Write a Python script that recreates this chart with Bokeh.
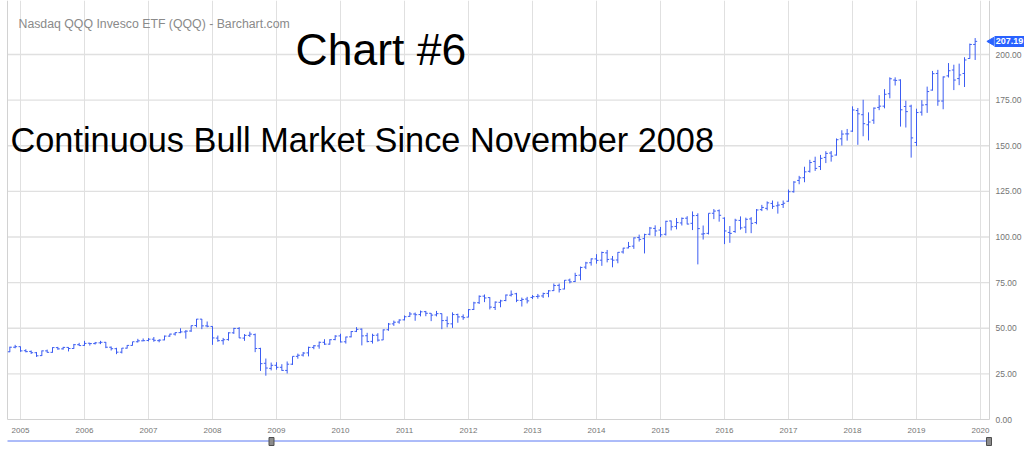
from bokeh.plotting import figure
from bokeh.models import Range1d, ColumnDataSource
from bokeh.core.properties import value
from bokeh.embed import file_html
from bokeh.resources import INLINE

# Monthly OHLC bars, Nov 2004 .. Dec 2019
first_year, first_month = 2004, 11
opens = [37.1, 39.6,
    39.9, 37.7, 37.3, 36.6, 35.0, 37.6, 36.8, 39.4, 38.7, 39.5, 38.9, 41.0,
    40.6, 41.8, 41.6, 42.0, 42.3, 39.6, 38.8, 36.9, 39.1, 40.6, 42.6, 43.1,
    43.3, 44.0, 43.2, 43.6, 45.7, 46.8, 47.6, 48.0, 48.5, 51.5, 55.0, 51.3,
    51.0, 44.6, 43.2, 43.8, 47.5, 49.9, 44.6, 46.1, 46.5, 38.9, 30.8, 28.0,
    29.7, 28.6, 26.9, 30.3, 34.6, 35.3, 36.5, 39.5, 40.3, 42.3, 41.3, 43.8,
    45.8, 42.6, 45.3, 48.3, 49.5, 45.9, 42.8, 46.2, 43.6, 49.2, 52.4, 53.4,
    54.6, 56.5, 57.8, 57.5, 59.1, 58.2, 57.3, 58.0, 54.3, 52.4, 57.5, 56.3,
    56.1, 60.3, 64.0, 67.6, 66.8, 61.4, 64.2, 65.2, 68.1, 68.9, 65.2, 66.0,
    66.9, 67.4, 67.7, 69.1, 70.6, 73.5, 71.5, 76.4, 75.6, 79.1, 83.5, 85.9,
    88.0, 87.3, 91.3, 87.9, 87.4, 91.8, 94.0, 95.0, 99.7, 99.1, 101.5, 104.7,
    103.8, 101.5, 108.8, 105.8, 107.7, 110.3, 107.5, 111.8, 101.6, 102.0, 113.0, 114.4,
    110.3, 102.5, 103.0, 109.1, 105.4, 109.9, 107.9, 115.0, 115.7, 118.4, 117.1, 117.8,
    119.6, 124.8, 131.0, 132.5, 136.0, 141.4, 138.6, 143.6, 146.0, 144.9, 153.8, 156.5,
    158.0, 169.3, 167.0, 161.5, 164.0, 171.0, 171.7, 178.5, 186.0, 186.0, 171.5, 171.7,
    151.8, 168.4, 172.5, 180.5, 189.6, 174.5, 188.3, 191.5, 186.8, 189.6, 197.8, 205.5]
highs = [39.9, 40.9,
    40.0, 38.5, 37.8, 37.0, 37.8, 38.3, 39.6, 39.8, 39.8, 39.6, 41.4, 42.0,
    43.1, 42.0, 42.5, 43.1, 42.5, 40.0, 39.3, 39.2, 40.8, 42.6, 44.2, 44.4,
    44.6, 45.2, 44.0, 46.0, 47.0, 47.8, 50.0, 49.0, 51.5, 55.1, 55.1, 53.7,
    51.1, 46.0, 44.7, 47.8, 50.2, 50.6, 46.8, 48.1, 47.1, 39.3, 33.4, 31.2,
    31.4, 30.3, 31.8, 34.6, 36.1, 37.0, 39.9, 40.8, 42.7, 44.0, 44.0, 46.2,
    47.0, 45.4, 48.5, 50.6, 49.9, 47.5, 47.0, 47.3, 49.4, 52.9, 54.2, 54.9,
    57.0, 58.9, 58.6, 59.7, 59.5, 58.3, 59.5, 58.1, 56.5, 58.7, 58.0, 57.6,
    60.5, 64.5, 68.0, 68.5, 67.0, 64.7, 65.6, 68.5, 70.7, 69.4, 66.8, 67.2,
    68.2, 68.8, 69.5, 70.9, 74.5, 74.5, 76.4, 77.2, 80.4, 83.8, 86.4, 88.3,
    90.6, 92.0, 92.9, 89.6, 91.7, 94.1, 97.3, 99.8, 101.3, 101.8, 105.5, 106.4,
    105.5, 108.9, 109.0, 110.4, 110.7, 111.4, 114.0, 113.0, 106.3, 113.0, 115.3, 115.1,
    110.8, 106.0, 110.0, 111.3, 110.6, 110.9, 115.3, 117.6, 119.5, 120.0, 119.4, 120.0,
    126.0, 130.6, 133.5, 138.5, 142.3, 144.0, 145.0, 147.0, 147.1, 154.0, 158.5, 159.2,
    171.6, 170.7, 175.2, 168.3, 171.0, 177.7, 181.0, 187.5, 187.5, 186.4, 174.7, 172.5,
    170.3, 175.0, 182.4, 191.0, 191.6, 188.0, 195.3, 194.4, 195.0, 198.5, 206.0, 209.0]
lows = [36.9, 39.0,
    37.1, 36.8, 35.9, 34.3, 34.8, 36.6, 36.6, 38.2, 38.3, 37.3, 38.7, 40.4,
    40.4, 40.5, 41.1, 41.3, 39.1, 37.8, 35.8, 36.2, 38.9, 40.5, 42.2, 42.9,
    42.8, 42.6, 42.3, 43.4, 45.3, 46.0, 47.3, 44.3, 48.0, 50.5, 49.5, 50.5,
    40.9, 42.6, 41.0, 43.2, 46.9, 44.6, 43.1, 45.2, 36.9, 26.6, 24.0, 26.9,
    27.3, 26.7, 25.2, 29.9, 33.3, 34.5, 34.6, 38.5, 38.8, 40.9, 41.0, 43.4,
    42.2, 41.6, 45.0, 47.9, 40.6, 42.3, 41.6, 42.7, 43.5, 48.6, 51.3, 52.5,
    54.3, 56.2, 54.1, 56.5, 56.6, 53.9, 56.5, 49.5, 50.5, 50.2, 53.0, 54.6,
    56.0, 60.0, 63.3, 64.3, 60.3, 60.0, 61.5, 64.8, 67.4, 64.3, 61.9, 63.6,
    66.0, 66.2, 66.6, 67.0, 70.4, 69.6, 71.3, 74.6, 75.3, 76.3, 82.4, 84.3,
    85.4, 84.2, 86.1, 83.4, 85.6, 90.9, 93.8, 93.5, 97.5, 91.0, 100.9, 100.4,
    99.9, 100.8, 103.6, 104.2, 106.3, 106.9, 103.8, 85.0, 98.6, 101.4, 109.8, 108.4,
    96.1, 96.8, 102.3, 104.0, 102.1, 102.1, 107.0, 114.2, 114.6, 115.4, 112.8, 115.9,
    119.3, 124.3, 128.9, 130.0, 135.3, 136.2, 136.7, 140.5, 141.3, 144.6, 150.1, 152.8,
    157.6, 150.5, 155.2, 152.9, 162.0, 169.5, 170.5, 176.0, 183.0, 160.5, 160.0, 143.5,
    149.8, 166.5, 168.0, 180.2, 171.9, 170.0, 187.4, 180.5, 183.2, 182.2, 197.7, 197.0]
closes = [39.6, 39.9,
    37.6, 37.2, 36.6, 34.9, 37.6, 36.8, 39.4, 38.7, 39.5, 38.9, 41.0, 40.5,
    41.7, 41.6, 42.0, 42.3, 39.6, 38.8, 36.9, 39.1, 40.6, 42.6, 43.1, 43.2,
    44.0, 43.4, 43.5, 45.7, 46.8, 47.6, 48.0, 48.4, 51.4, 55.0, 51.3, 51.1,
    44.7, 43.2, 43.7, 47.5, 49.9, 44.7, 46.1, 46.8, 38.9, 30.6, 28.2, 29.7,
    28.6, 26.9, 30.3, 34.6, 35.2, 36.4, 39.5, 40.4, 42.3, 41.3, 43.7, 45.7,
    42.5, 45.2, 48.2, 49.4, 45.8, 42.7, 46.1, 43.5, 49.1, 52.3, 53.3, 54.5,
    56.3, 57.8, 57.4, 59.0, 58.2, 57.2, 58.0, 54.2, 52.5, 57.5, 56.2, 55.8,
    60.2, 63.9, 67.5, 66.6, 61.6, 64.3, 65.0, 68.2, 68.6, 65.3, 65.8, 65.0,
    67.3, 67.6, 69.0, 70.5, 73.4, 71.2, 76.3, 75.4, 78.9, 83.3, 85.8, 88.0,
    87.2, 91.5, 87.7, 87.3, 91.6, 93.9, 94.8, 99.5, 98.7, 101.3, 104.9, 103.3,
    101.2, 108.6, 105.6, 107.9, 110.2, 107.1, 111.7, 104.6, 101.8, 113.0, 114.2, 111.9,
    103.3, 102.0, 109.2, 105.0, 109.7, 107.5, 114.8, 116.2, 118.7, 116.8, 117.5, 118.5,
    124.8, 130.1, 132.4, 135.7, 140.8, 137.6, 143.1, 145.8, 144.3, 153.3, 156.4, 156.5,
    169.6, 167.5, 162.1, 163.0, 170.6, 171.7, 178.2, 186.7, 185.8, 169.7, 168.7, 154.3,
    168.2, 172.3, 179.7, 189.5, 174.5, 187.7, 191.1, 186.0, 188.8, 197.0, 205.5, 207.2]
last_price = 207.19
year_ticks = list(range(2005, 2021))
price_ticks = [0, 25, 50, 75, 100, 125, 150, 175, 200]
source_title = "Nasdaq QQQ Invesco ETF (QQQ) - Barchart.com"
headline = "Chart #6"
subtitle = "Continuous Bull Market Since November 2008"
nav_window_start = 2009.0

# ---- pixel <-> data mapping (canvas fills the whole window) ----
W, H = 1024, 451
PX_PER_YEAR = 64.0
X_AT_2005 = 20.0
Y_ZERO_PX, PX_PER_UNIT = 419.0, 1.825


def px2x(px):
    return 2005 + (px - X_AT_2005) / PX_PER_YEAR


def py2y(py):
    return (Y_ZERO_PX - py) / PX_PER_UNIT


X0, X1 = px2x(0), px2x(W)
Y0, Y1 = py2y(H), py2y(0)
x_left, x_right = px2x(7), px2x(989)       # plot-area borders
y_top = Y1

n = len(closes)
xs = [first_year + (first_month - 1 + i) / 12.0 for i in range(n)]
tick = 2.0 / PX_PER_YEAR
src = ColumnDataSource(dict(
    x=xs, o=opens, h=highs, l=lows, c=closes,
    xl=[x - tick for x in xs], xr=[x + tick for x in xs]))

BAR = "#3c5df2"
GRID = "#e0e0e0"
BORDER = "#d2d2d2"
LABEL = "#747474"
FONT = value("Liberation Sans")

p = figure(width=W, height=H, x_range=Range1d(X0, X1), y_range=Range1d(Y0, Y1),
           output_backend="svg", toolbar_location=None,
           x_axis_location=None, y_axis_location=None, min_border=0)
p.grid.visible = False
p.outline_line_color = None
p.background_fill_color = "white"
p.border_fill_color = "white"

# grid lines
p.segment(x0=year_ticks, y0=[0] * len(year_ticks), x1=year_ticks, y1=[y_top] * len(year_ticks),
          line_color=GRID, line_width=1)
hticks = [t for t in price_ticks if t > 0]
p.segment(x0=[x_left] * len(hticks), y0=hticks, x1=[x_right] * len(hticks), y1=hticks,
          line_color=GRID, line_width=1.4)
# plot-area border
p.segment(x0=[x_left, x_left, x_right], y0=[0, 0, 0], x1=[x_left, x_right, x_right],
          y1=[y_top, 0, y_top], line_color=BORDER, line_width=1)

# OHLC bars
p.segment(x0="x", y0="l", x1="x", y1="h", source=src, line_color=BAR, line_width=1)
p.segment(x0="xl", y0="o", x1="x", y1="o", source=src, line_color=BAR, line_width=1)
p.segment(x0="x", y0="c", x1="xr", y1="c", source=src, line_color=BAR, line_width=1)

# axis tick labels
p.text(x=year_ticks, y=[py2y(430)] * len(year_ticks), text=[str(t) for t in year_ticks],
       text_font=FONT, text_font_size="8px", text_color=LABEL,
       text_align="center", text_baseline="middle")
p.text(x=[px2x(995)] * len(price_ticks), y=price_ticks, text=["%.2f" % t for t in price_ticks],
       text_font=FONT, text_font_size="8.5px", text_color=LABEL,
       text_align="left", text_baseline="middle")

# last price badge
p.scatter(x=[px2x(991)], y=[last_price], marker="triangle", angle=1.5708, size=8,
          fill_color="#2962ff", line_color="#2962ff")
p.rect(x=[px2x(1009)], y=[last_price], width=30, height=11, width_units="screen",
       height_units="screen", fill_color="#2962ff", line_color=None)
p.text(x=[px2x(1009)], y=[last_price], text=["%.2f" % last_price], text_font=FONT,
       text_font_size="9px", text_font_style="bold", text_color="white",
       text_align="center", text_baseline="middle")

# titles
p.text(x=[px2x(18)], y=[py2y(23)], text=[source_title], text_font=FONT,
       text_font_size="12.3px", text_color="#8a8a8a", text_baseline="alphabetic")
p.text(x=[px2x(295)], y=[py2y(49)], text=[headline], text_font=FONT,
       text_font_size="44.5px", text_color="black", text_baseline="alphabetic")
p.text(x=[px2x(10)], y=[py2y(139)], text=[subtitle], text_font=FONT,
       text_font_size="34.3px", text_color="black", text_baseline="alphabetic")

# navigator strip
nav_y = py2y(440.5)
p.segment(x0=[x_left], y0=[nav_y], x1=[px2x(987)], y1=[nav_y], line_color="#5a78f3", line_width=1)
p.rect(x=[nav_window_start + 1.0 / 64 * -5, px2x(988.5)], y=[py2y(441), py2y(441)],
       width=5, height=8, width_units="screen", height_units="screen",
       fill_color="#8c8c8c", line_color="#4f4f4f", line_width=1)

open("out.html", "w").write(file_html(p, INLINE))
